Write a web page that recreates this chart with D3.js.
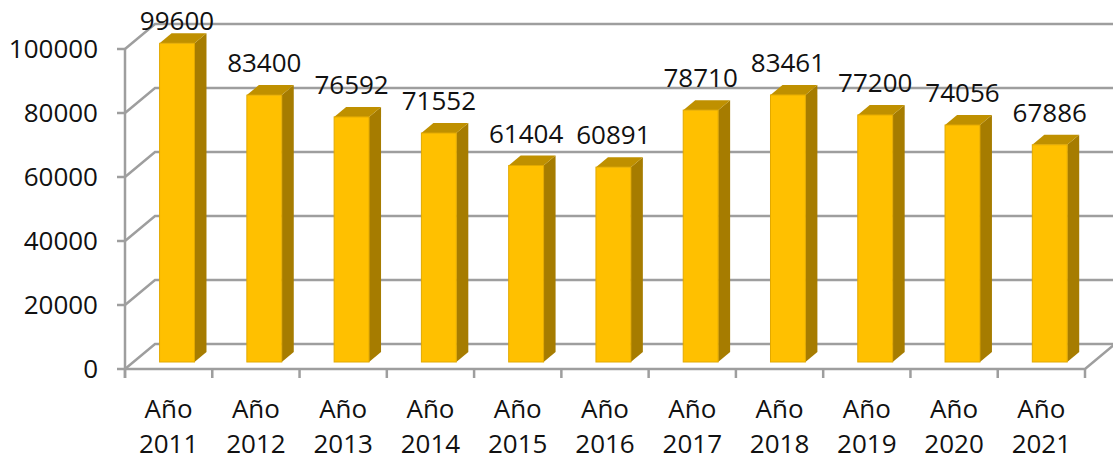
<!DOCTYPE html>
<html>
<head>
    <meta charset="utf-8" />
    <script src="https://cdn.jsdelivr.net/npm/d3@7"></script>
    <title>Años</title>
    <style>
        body { margin: 0; background: #fff; }
        text { font-family: "Open Sans", sans-serif; font-size: 26px; fill: #111; }
        .grid { stroke: #9e9e9e; stroke-width: 2.5; fill: none; }
        .front { fill: #FFC000; stroke: #E2A900; stroke-width: 1; }
        .side { fill: #A67C00; }
        .top { fill: #BF9000; }
    </style>
</head>
<body>
    <script>
        var years = ["2011", "2012", "2013", "2014", "2015", "2016", "2017", "2018", "2019", "2020", "2021"];
        var values = [99600, 83400, 76592, 71552, 61404, 60891, 78710, 83461, 77200, 74056, 67886];
        var yTicks = [0, 20000, 40000, 60000, 80000, 100000];
        var prefix = "Año";

        var svgWidth = 1113,
            svgHeight = 462;

        // depth of the 3d box (back wall offset) and where bars sit in it
        var depth = {dx: 30, dy: -25},
            barFront = 0.28,
            barBack = 0.68;

        var svg = d3.select("body").append("svg")
            .attr("width", svgWidth)
            .attr("height", svgHeight);

        var x = d3.scaleBand()
            .domain(years)
            .range([125, 1085])
            .padding(0);

        var y = d3.scaleLinear()
            .domain([0, 100000])
            .range([369, 49]);

        var g = svg.append("g");

        // side wall diagonals + back wall gridlines
        yTicks.forEach(function(t) {
            var yy = y(t);
            g.append("path").attr("class", "grid")
                .attr("d", "M" + 125 + "," + yy + "L" + (125 + depth.dx) + "," + (yy + depth.dy) + "L" + 1120 + "," + (yy + depth.dy));
            // left tick
            g.append("line").attr("class", "grid")
                .attr("x1", 117).attr("x2", 125).attr("y1", yy).attr("y2", yy);
        });

        // floor
        var x0 = x.range()[0], x1 = x.range()[1], y0 = y(0);
        g.append("path").attr("class", "grid")
            .attr("d", "M" + x0 + "," + y0 + "L" + x1 + "," + y0 + "L" + (x1 + depth.dx) + "," + (y0 + depth.dy));
        // front vertical axis
        g.append("line").attr("class", "grid")
            .attr("x1", x0).attr("x2", x0).attr("y1", y(100000)).attr("y2", y0 + 9);
        // category ticks
        var bounds = years.map(function(d) { return x(d); }).concat([x1]);
        g.selectAll(".ctick").data(bounds).enter().append("line")
            .attr("class", "grid")
            .attr("x1", function(d) { return d; })
            .attr("x2", function(d) { return d; })
            .attr("y1", y0).attr("y2", y0 + 9);

        // y labels
        svg.selectAll(".ylab").data(yTicks).enter().append("text")
            .attr("x", 98)
            .attr("y", function(d) { return y(d); })
            .attr("dy", "0.36em")
            .attr("text-anchor", "end")
            .text(function(d) { return d; });

        // bars
        var bw = x.bandwidth() * 0.4;
        var fdx = depth.dx * barFront, fdy = depth.dy * barFront;
        var bdx = depth.dx * (barBack - barFront), bdy = depth.dy * (barBack - barFront);

        var bars = svg.selectAll(".bar").data(values).enter().append("g");
        bars.each(function(v, i) {
            var sel = d3.select(this);
            var cx = x(years[i]) + x.bandwidth() / 2 + fdx;
            var left = cx - bw / 2, right = cx + bw / 2;
            var top = y(v) + fdy, bottom = y(0) + fdy;
            sel.append("path").attr("class", "side")
                .attr("d", "M" + right + "," + top + "L" + (right + bdx) + "," + (top + bdy) +
                    "L" + (right + bdx) + "," + (bottom + bdy) + "L" + right + "," + bottom + "Z");
            sel.append("path").attr("class", "top")
                .attr("d", "M" + left + "," + top + "L" + (left + bdx) + "," + (top + bdy) +
                    "L" + (right + bdx) + "," + (top + bdy) + "L" + right + "," + top + "Z");
            sel.append("rect").attr("class", "front")
                .attr("x", left).attr("y", top)
                .attr("width", bw).attr("height", bottom - top);
            sel.append("text")
                .attr("x", cx)
                .attr("y", Math.max(top + bdy - 13, 30))
                .attr("text-anchor", "middle")
                .text(v);
        });

        // category labels
        var cl = svg.selectAll(".clab").data(years).enter().append("text")
            .attr("text-anchor", "middle");
        cl.append("tspan")
            .attr("x", function(d) { return x(d) + x.bandwidth() / 2; })
            .attr("y", 418)
            .text(prefix);
        cl.append("tspan")
            .attr("x", function(d) { return x(d) + x.bandwidth() / 2; })
            .attr("y", 453)
            .text(function(d) { return d; });
    </script>
</body>
</html>
